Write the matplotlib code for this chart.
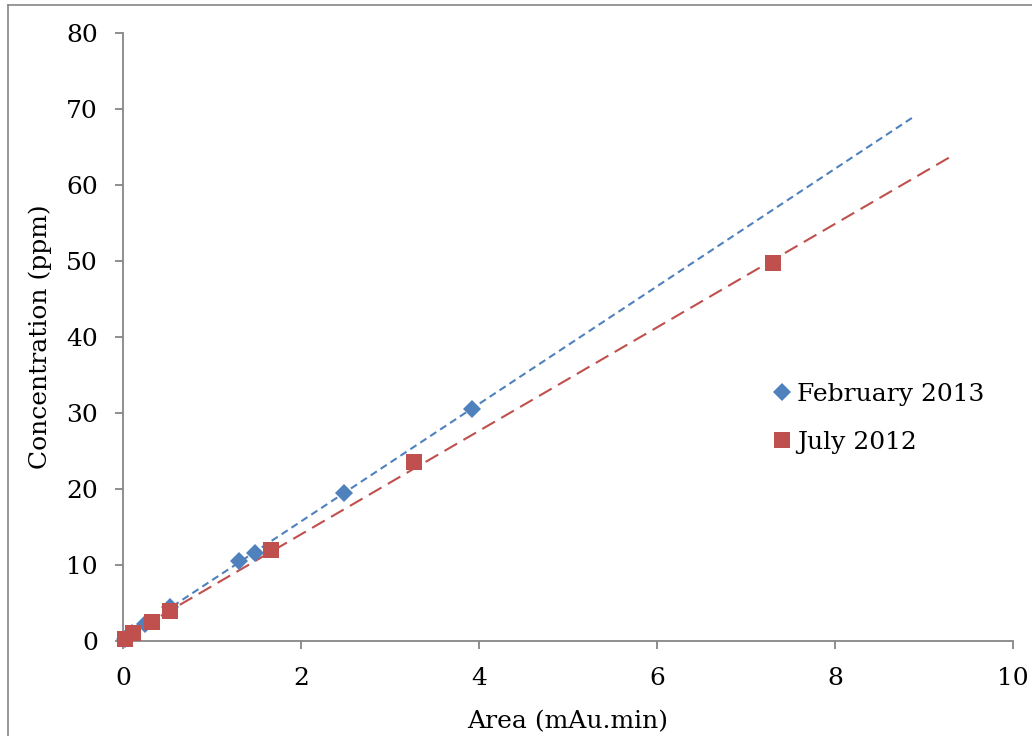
import numpy as np
import matplotlib.pyplot as plt
from matplotlib.lines import Line2D

plt.rcParams['font.family'] = ['DejaVu Serif']

# February 2013 calibration (area in mAu.min, concentration in ppm)
feb_area = [0.02, 0.05, 0.10, 0.25, 0.53, 1.30, 1.48, 2.48, 3.92]
feb_conc = [0.3, 0.5, 1.0, 2.3, 4.5, 10.5, 11.6, 19.5, 30.5]

# July 2012 calibration
jul_area = [0.02, 0.11, 0.33, 0.53, 1.66, 3.27, 7.30]
jul_conc = [0.3, 1.0, 2.5, 3.9, 12.0, 23.5, 49.7]

# how far each linear trendline is drawn (x range)
feb_trend_x = [0.0, 8.88]
jul_trend_x = [0.0, 9.28]

blue = '#4F81BD'
red = '#C0504D'
grey = '#868686'

fig = plt.figure(figsize=(10.32, 7.36), dpi=100)
ax = fig.add_axes([0.1192, 0.1291, 0.8624, 0.8261])

# linear fits, like the Excel trendlines
pf = np.polyfit(feb_area, feb_conc, 1)
pj = np.polyfit(jul_area, jul_conc, 1)
xf = np.array(feb_trend_x)
xj = np.array(jul_trend_x)
ax.plot(xf, np.polyval(pf, xf), color=blue, lw=1.5, linestyle=(0, (3.5, 2.2)), zorder=2)
ax.plot(xj, np.polyval(pj, xj), color=red, lw=1.5, linestyle=(0, (7, 3.5)), zorder=2)

ax.plot(feb_area, feb_conc, 'D', color=blue, markersize=9.5, markeredgewidth=0,
        label='February 2013', zorder=3, clip_on=False)
ax.plot(jul_area, jul_conc, 's', color=red, markersize=11, markeredgewidth=0,
        label='July 2012', zorder=3, clip_on=False)

ax.set_xlim(0, 10)
ax.set_ylim(0, 80)
ax.set_xticks(range(0, 11, 2))
ax.set_yticks(range(0, 81, 10))

for s in ['top', 'right']:
    ax.spines[s].set_visible(False)
for s in ['left', 'bottom']:
    ax.spines[s].set_color(grey)
    ax.spines[s].set_linewidth(1.3)
ax.tick_params(axis='both', direction='out', length=6, width=1.3, color=grey, labelsize=18)
ax.tick_params(axis='y', pad=12)
ax.tick_params(axis='x', pad=13)

ax.set_xlabel('Area (mAu.min)', fontsize=18, labelpad=14)
ax.set_ylabel('Concentration (ppm)', fontsize=18, labelpad=10)

ax.legend(loc='upper left', bbox_to_anchor=(0.717, 0.445), frameon=False, fontsize=18,
          handlelength=0.7, handletextpad=0.25, labelspacing=1.0, borderpad=0)

# chart area border (only top and left visible in the crop)
fig.add_artist(Line2D([8/1032, 1.0], [1 - 5/736, 1 - 5/736], color=grey, lw=1.2))
fig.add_artist(Line2D([8/1032, 8/1032], [0.0, 1 - 5/736], color=grey, lw=1.2))

plt.savefig('out.png', dpi=100)
plt.close()
